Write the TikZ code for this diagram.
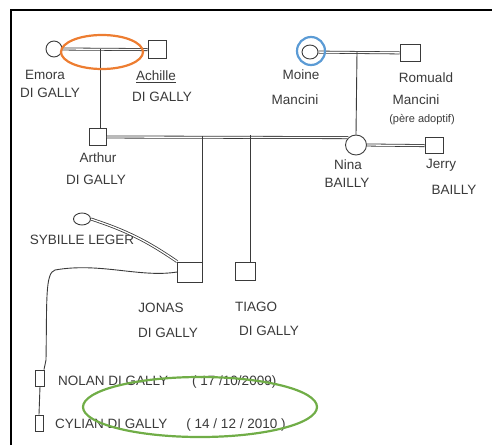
\documentclass[tikz,border=0pt]{standalone}
\usepackage{fontspec}
\setmainfont{Liberation Sans}
\usetikzlibrary{shapes.geometric}
\definecolor{ink}{HTML}{3A3A3A}
\definecolor{orangeC}{HTML}{ED7D31}
\definecolor{blueC}{HTML}{5B9BD5}
\definecolor{greenC}{HTML}{70AD47}
\begin{document}
\begin{tikzpicture}[x=1pt,y=-1pt,
  person/.style={draw=ink,line width=0.9pt,inner sep=0pt},
  male/.style={person,rectangle},
  female/.style={person,ellipse},
  couple/.style={draw=ink,double=white,double distance=1.3pt,line width=0.8pt},
  descent/.style={draw=ink,line width=0.9pt},
  lbl/.style={font=\fontsize{13.5}{15}\selectfont,text=ink,inner sep=0pt},
  hl/.style={line width=2.2pt}]
\useasboundingbox (0,0) rectangle (492,445);
\draw[line width=2.5pt] (11,445) -- (11,10) -- (492,10);

% persons
\node[female,minimum width=16pt,minimum height=16pt] (emora) at (54,49) {};
\node[male,minimum width=18pt,minimum height=18pt] (achille) at (157,49) {};
\node[male,minimum width=17pt,minimum height=17pt] (arthur) at (98,137) {};
\node[female,minimum width=16pt,minimum height=14pt] (moine) at (310,52) {};
\node[male,minimum width=20pt,minimum height=17pt] (romuald) at (410,53) {};
\node[female,minimum width=21pt,minimum height=20pt] (nina) at (356,145) {};
\node[male,minimum width=18pt,minimum height=16pt] (jerry) at (434,145) {};
\node[female,minimum width=17pt,minimum height=12pt] (sybille) at (82,219) {};
\node[male,minimum width=25pt,minimum height=20pt] (jonas) at (190,272) {};
\node[male,minimum width=20pt,minimum height=18pt] (tiago) at (245,271) {};
\node[male,minimum width=9pt,minimum height=16pt] (nolan) at (40,378) {};
\node[male,minimum width=8pt,minimum height=16pt] (cylian) at (39,423) {};

% labels
\node[lbl] (lemora1) at (45,75) {Emora};
\node[lbl] (lemora2) at (50,93) {DI GALLY};
\node[lbl] (lachille1) at (156,77) {\underline{Achille}};
\node[lbl] (lachille2) at (162,97) {DI GALLY};
\node[lbl] (larthur1) at (98,158) {Arthur};
\node[lbl] (larthur2) at (96,180) {DI GALLY};
\node[lbl] (lmoine1) at (301,75) {Moine};
\node[lbl] (lmoine2) at (295,100) {Mancini};
\node[lbl] (lromuald1) at (426,78) {Romuald};
\node[lbl] (lromuald2) at (416,100) {Mancini};
\node[lbl,font=\fontsize{11}{13}\selectfont] (lromuald3) at (422,120) {(père adoptif)};
\node[lbl] (lnina1) at (348,165) {Nina};
\node[lbl] (lnina2) at (347,183) {BAILLY};
\node[lbl] (ljerry1) at (441,165) {Jerry};
\node[lbl] (ljerry2) at (454,190) {BAILLY};
\node[lbl] (lsybille) at (82,240) {SYBILLE LEGER};
\node[lbl] (ljonas1) at (161,308) {JONAS};
\node[lbl] (ljonas2) at (168,333) {DI GALLY};
\node[lbl] (ltiago1) at (256,307) {TIAGO};
\node[lbl] (ltiago2) at (269,331) {DI GALLY};
\node[lbl,anchor=west] (lnolan) at (58,382) {NOLAN DI GALLY\hspace{24pt}( 17 /10/2009)};
\node[lbl,anchor=west] (lcylian) at (55,425) {CYLIAN DI GALLY\hspace{19pt}( 14 / 12 / 2010 )};

% couples
\draw[couple] (emora.east) -- ([yshift=-0.6pt]achille.west);
\draw[couple] (moine) -- (romuald);
\draw[couple] (arthur.east) -- (nina.north west);
\draw[couple] (nina.east) -- ([yshift=-0.6pt]jerry.west);
\draw[couple] (sybille.east) to[bend left=8] (jonas.north west);

% descent
\coordinate (ea) at (100,49);
\draw[descent] (ea) -- (ea |- arthur.north);
\coordinate (mr) at (357,52);
\draw[descent] (mr) -- (nina.north);
\coordinate (c1) at (202,136);
\coordinate (c2) at (250,135);
\draw[descent] (c1) -- (c1 |- jonas.north);
\draw[descent] (c2) -- (c2 |- tiago.north);
\coordinate (bendA) at (55,270);
\draw[descent] (jonas.west) .. controls (140,278) and (100,262) .. (bendA)
  .. controls (45,273) and (47,300) .. (46,360) -- (nolan.north -| 44,0);
\draw[descent] (nolan.south) -- (cylian.north);

% highlights
\draw[hl,orangeC] (102,52) ellipse [x radius=41, y radius=17];
\draw[hl,blueC] (311,51) circle [radius=14];
\draw[hl,greenC] (200,407) ellipse [x radius=117, y radius=30];
\end{tikzpicture}
\end{document}
